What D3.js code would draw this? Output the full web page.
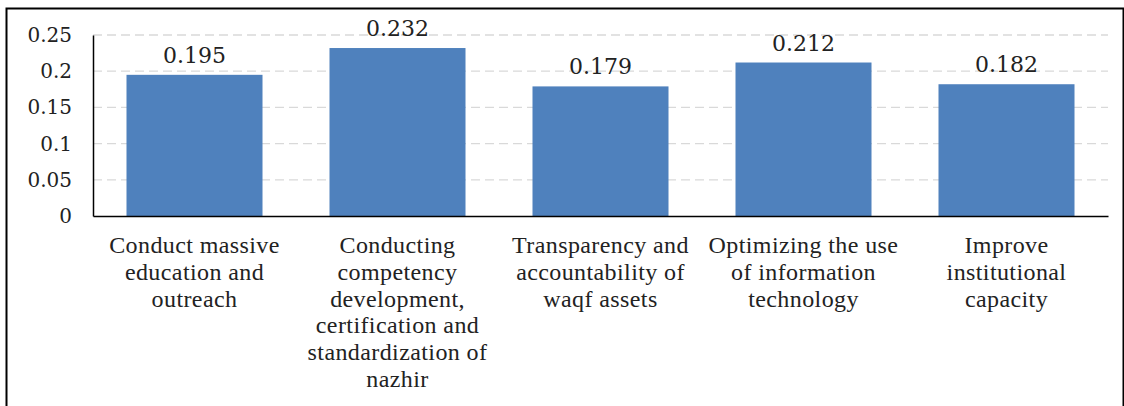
<!DOCTYPE html>
<html>
<head>
<meta charset="utf-8">
<script src="https://cdn.jsdelivr.net/npm/d3@7"></script>
<style>
  body { margin: 0; background: #fff; }
  svg { display: block; }
</style>
</head>
<body>
<div id="chart"></div>
<script>
var categories = ["c1", "c2", "c3", "c4", "c5"];
var categoryLines = [
  ["Conduct massive", "education and", "outreach"],
  ["Conducting", "competency", "development,", "certification and", "standardization of", "nazhir"],
  ["Transparency and", "accountability of", "waqf assets"],
  ["Optimizing the use", "of information", "technology"],
  ["Improve", "institutional", "capacity"]
];
var values = [0.195, 0.232, 0.179, 0.212, 0.182];
var valueLabels = ["0.195", "0.232", "0.179", "0.212", "0.182"];
var yTicks = [0, 0.05, 0.1, 0.15, 0.2, 0.25];
var yTickLabels = ["0", "0.05", "0.1", "0.15", "0.2", "0.25"];

var W = 1124, H = 406;
var margin = {left: 93, right: 16, top: 35, bottom: 190};
var width = W - margin.left - margin.right;
var height = H - margin.top - margin.bottom;

var svg = d3.select("#chart").append("svg")
    .attr("width", W)
    .attr("height", H);

// outer frame
svg.append("path")
    .attr("d", "M6.5," + H + "V8.5H" + (W - 0.5) + "V" + H)
    .attr("fill", "none")
    .attr("stroke", "#000")
    .attr("stroke-width", 2);

var g = svg.append("g")
    .attr("transform", "translate(" + margin.left + "," + margin.top + ")");

var x = d3.scaleBand()
    .domain(categories)
    .range([0, width])
    .paddingInner(0.33)
    .paddingOuter(0.165);

var y = d3.scaleLinear()
    .domain([0, 0.25])
    .range([height, 0]);

// gridlines
g.selectAll(".grid")
    .data(yTicks.slice(1))
    .enter().append("line")
    .attr("class", "grid")
    .attr("x1", 0)
    .attr("x2", width)
    .attr("y1", function(d) { return y(d); })
    .attr("y2", function(d) { return y(d); })
    .attr("stroke", "#d9d9d9")
    .attr("stroke-width", 1.3)
    .attr("stroke-dasharray", "9,5");

// bars
g.selectAll(".bar")
    .data(values)
    .enter().append("rect")
    .attr("class", "bar")
    .attr("x", function(d, i) { return x(categories[i]); })
    .attr("width", x.bandwidth())
    .attr("y", function(d) { return y(d); })
    .attr("height", function(d) { return height - y(d); })
    .style("fill", "#4f81bd");

// value labels
g.selectAll(".vlabel")
    .data(values)
    .enter().append("text")
    .attr("class", "vlabel")
    .attr("x", function(d, i) { return x(categories[i]) + x.bandwidth() / 2; })
    .attr("y", function(d) { return y(d) - 12; })
    .attr("text-anchor", "middle")
    .style("font-family", "'DejaVu Serif', serif")
    .style("font-size", "22px")
    .style("fill", "#222")
    .text(function(d, i) { return valueLabels[i]; });

// y axis
var yAxis = d3.axisLeft(y)
    .tickValues(yTicks)
    .tickSize(0)
    .tickPadding(21)
    .tickFormat(function(d, i) { return yTickLabels[i]; });

var yg = g.append("g").call(yAxis);
yg.select(".domain").attr("stroke", "#000").attr("stroke-width", 1.5);
yg.selectAll(".tick text")
    .style("font-family", "'DejaVu Serif', serif")
    .style("font-size", "20px")
    .style("fill", "#222");

// x axis
var xAxis = d3.axisBottom(x).tickSize(0).tickFormat("");
var xg = g.append("g")
    .attr("transform", "translate(0," + height + ")")
    .call(xAxis);
xg.select(".domain").attr("stroke", "#000").attr("stroke-width", 1.5);

// category labels
xg.selectAll(".tick").each(function(d, i) {
  var t = d3.select(this).append("text")
      .attr("text-anchor", "middle")
      .attr("y", 37)
      .style("font-family", "'Liberation Serif', serif")
      .style("font-size", "24px")
      .style("letter-spacing", "0.4px")
      .style("fill", "#222");
  categoryLines[i].forEach(function(line, j) {
    t.append("tspan")
        .attr("x", 0)
        .attr("dy", j === 0 ? 0 : 26.8)
        .text(line);
  });
});
</script>
</body>
</html>
